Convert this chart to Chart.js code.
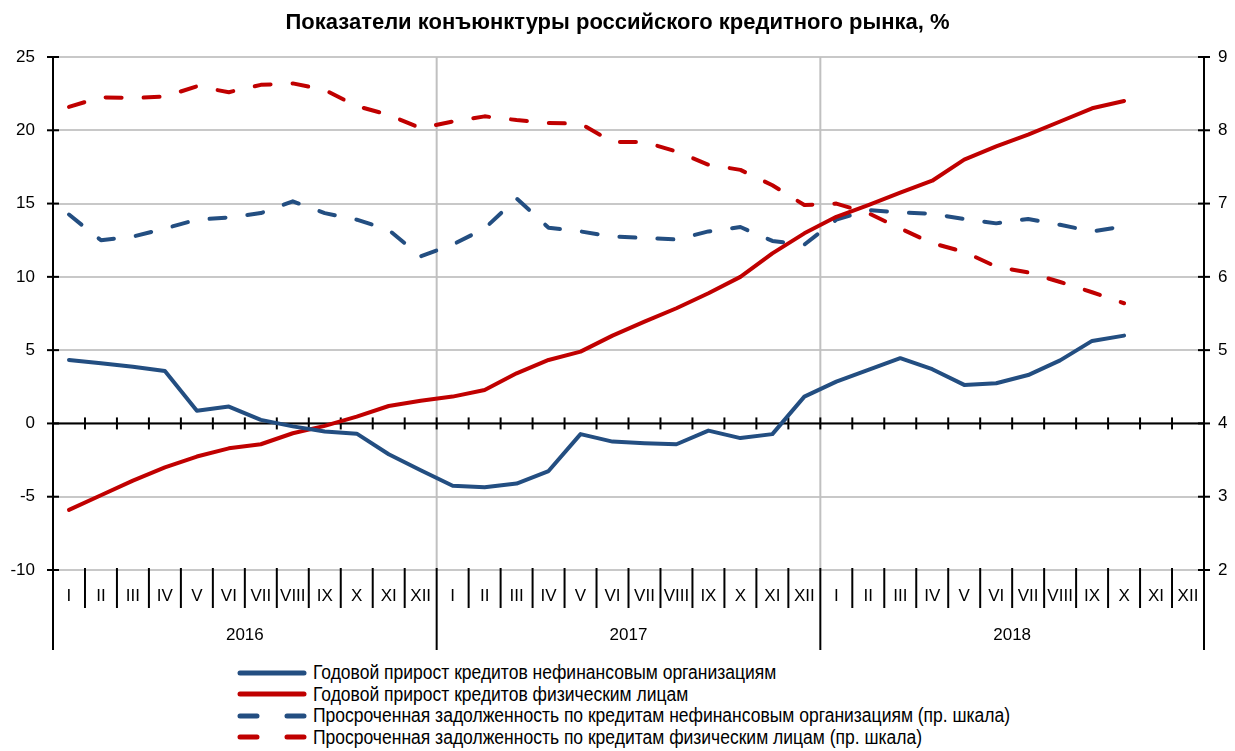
<!DOCTYPE html>
<html>
<head>
<meta charset="utf-8">
<script src="https://cdn.jsdelivr.net/npm/chart.js@4/dist/chart.umd.min.js"></script>
<style>
  body { margin: 0; background: #fff; }
  #wrap { position: relative; width: 1235px; height: 751px; }
  #legend { position: absolute; left: 237px; top: 662px; font-family: "Liberation Sans", Arial, sans-serif; font-size: 20px; color: #000; }
  .row { display: flex; align-items: center; height: 21.5px; white-space: nowrap; }
  .row svg { margin-right: 4px; flex: none; }
  .row span { display: inline-block; transform: scaleX(0.875); transform-origin: left center; }
</style>
</head>
<body>
<div id="wrap">
  <canvas id="chart" width="1235" height="655"></canvas>
  <div id="legend"></div>
</div>
<script>
// months and years
const months = ["I","II","III","IV","V","VI","VII","VIII","IX","X","XI","XII"];
const years = ["2016", "2017", "2018"];
const labels = [].concat(months, months, months);

// left scale, % y/y
const corpGrowth = [4.33, 4.1, 3.87, 3.58, 0.87, 1.15, 0.24, -0.2, -0.55, -0.7, -2.1, -3.2,
                    -4.25, -4.35, -4.1, -3.25, -0.73, -1.24, -1.35, -1.42, -0.49, -1.0, -0.73, 1.83,
                    2.85, 3.65, 4.45, 3.7, 2.63, 2.74, 3.3, 4.3, 5.63, 5.99];
const retailGrowth = [-5.9, -4.9, -3.9, -3.0, -2.26, -1.7, -1.42, -0.67, -0.17, 0.46, 1.19, 1.55,
                      1.83, 2.28, 3.42, 4.33, 4.9, 5.99, 6.95, 7.86, 8.88, 10.0, 11.6, 12.97,
                      14.1, 14.9, 15.75, 16.56, 18.0, 18.9, 19.7, 20.6, 21.5, 22.0];
// right scale, overdue share %
const corpOverdue = [6.85, 6.5, 6.55, 6.66, 6.78, 6.81, 6.87, 7.03, 6.87, 6.78, 6.64, 6.28,
                     6.44, 6.66, 7.07, 6.67, 6.62, 6.55, 6.53, 6.51, 6.62, 6.68, 6.49, 6.44,
                     6.78, 6.91, 6.88, 6.86, 6.79, 6.73, 6.79, 6.71, 6.62, 6.69];
const retailOverdue = [8.32, 8.45, 8.44, 8.46, 8.6, 8.52, 8.62, 8.64, 8.55, 8.33, 8.21, 8.03,
                       8.12, 8.19, 8.14, 8.1, 8.09, 7.84, 7.84, 7.71, 7.53, 7.46, 7.25, 6.98,
                       7.0, 6.87, 6.66, 6.46, 6.34, 6.14, 6.06, 5.93, 5.79, 5.64];

const BLUE = "#234e81";
const RED = "#c00000";
const DASH = [16, 22];
const FONT = "'Liberation Sans', Arial, sans-serif";

const datasets = [
    { label: "Годовой прирост кредитов нефинансовым организациям", data: corpGrowth, borderColor: BLUE, yAxisID: "y", borderDash: [] },
    { label: "Годовой прирост кредитов физическим лицам", data: retailGrowth, borderColor: RED, yAxisID: "y", borderDash: [] },
    { label: "Просроченная задолженность по кредитам нефинансовым организациям (пр. шкала)", data: corpOverdue, borderColor: BLUE, yAxisID: "y1", borderDash: DASH },
    { label: "Просроченная задолженность по кредитам физическим лицам (пр. шкала)", data: retailOverdue, borderColor: RED, yAxisID: "y1", borderDash: DASH }
];
datasets.forEach(d => {
    d.borderWidth = 4;
    d.pointRadius = 0;
    d.tension = 0;
    d.fill = false;
    d.borderCapStyle = "round";
    d.borderJoinStyle = "round";
});

// axes decoration: zero line ticks, month/year separators, year labels
const axisDecor = {
    id: "axisDecor",
    beforeDatasetsDraw(chart) {
        const { ctx, chartArea: a, scales: { x, y } } = chart;
        const step = x.getPixelForValue(1) - x.getPixelForValue(0);
        ctx.save();
        // year gridlines
        ctx.strokeStyle = "#c0c0c0";
        ctx.lineWidth = 2;
        for (let k = 1; k < years.length; k++) {
            const bx = x.getPixelForValue(k * 12) - step / 2;
            ctx.beginPath(); ctx.moveTo(bx, a.top); ctx.lineTo(bx, a.bottom); ctx.stroke();
        }
        // zero line with ticks
        const y0 = y.getPixelForValue(0);
        ctx.strokeStyle = "#000";
        ctx.beginPath(); ctx.moveTo(a.left, y0); ctx.lineTo(a.right, y0); ctx.stroke();
        for (let i = 1; i < labels.length; i++) {
            const bx = x.getPixelForValue(i) - step / 2;
            ctx.beginPath(); ctx.moveTo(bx, y0 - 6); ctx.lineTo(bx, y0 + 6); ctx.stroke();
        }
        ctx.restore();
    },
    afterDraw(chart) {
        const { ctx, chartArea: a, scales: { x, y, y1 } } = chart;
        const step = x.getPixelForValue(1) - x.getPixelForValue(0);
        const bottom = a.bottom + 80;
        ctx.save();
        ctx.strokeStyle = "#000";
        ctx.lineWidth = 2;
        // axis lines
        [a.left, a.right].forEach(px => {
            ctx.beginPath(); ctx.moveTo(px, a.top); ctx.lineTo(px, bottom); ctx.stroke();
        });
        // value ticks on both axes
        y.ticks.forEach(t => {
            const py = y.getPixelForValue(t.value);
            ctx.beginPath(); ctx.moveTo(a.left - 6, py); ctx.lineTo(a.left + 6, py); ctx.stroke();
        });
        y1.ticks.forEach(t => {
            const py = y1.getPixelForValue(t.value);
            ctx.beginPath(); ctx.moveTo(a.right - 6, py); ctx.lineTo(a.right + 6, py); ctx.stroke();
        });
        // month separators
        for (let i = 1; i < labels.length; i++) {
            const bx = x.getPixelForValue(i) - step / 2;
            const yb = (i % 12 === 0) ? bottom : a.bottom + 38;
            ctx.beginPath(); ctx.moveTo(bx, a.bottom - 2); ctx.lineTo(bx, yb); ctx.stroke();
        }
        // year labels
        ctx.fillStyle = "#000";
        ctx.font = "17px " + FONT;
        ctx.textAlign = "center";
        ctx.textBaseline = "middle";
        years.forEach((yr, k) => {
            const cx = (x.getPixelForValue(k * 12) + x.getPixelForValue(k * 12 + 11)) / 2;
            ctx.fillText(yr, cx, a.bottom + 65);
        });
        ctx.restore();
    }
};

new Chart(document.getElementById("chart"), {
    type: "line",
    data: { labels: labels, datasets: datasets },
    options: {
        responsive: false,
        animation: false,
        layout: { padding: 0 },
        plugins: {
            legend: { display: false },
            tooltip: { enabled: false },
            title: {
                display: true,
                text: "Показатели конъюнктуры российского кредитного рынка, %",
                color: "#000",
                font: { family: FONT, size: 22, weight: "bold" },
                padding: { top: 10, bottom: 20.6 }
            }
        },
        scales: {
            x: {
                offset: true,
                grid: { display: false },
                border: { display: false },
                ticks: { color: "#000", font: { family: FONT, size: 17 }, maxRotation: 0, autoSkip: false, padding: 8 },
                afterFit: s => { s.height = 85; }
            },
            y: {
                position: "left",
                min: -10, max: 25,
                ticks: { stepSize: 5, color: "#000", font: { family: FONT, size: 17 }, padding: 18 },
                grid: { color: "#c8c8c8", lineWidth: 2, drawTicks: false },
                border: { display: false },
                afterFit: s => { s.width = 53; }
            },
            y1: {
                position: "right",
                min: 2, max: 9,
                ticks: { stepSize: 1, color: "#000", font: { family: FONT, size: 17 }, padding: 14 },
                grid: { drawOnChartArea: false, drawTicks: false },
                border: { display: false },
                afterFit: s => { s.width = 31; }
            }
        }
    },
    plugins: [axisDecor]
});

// legend rows
const legend = document.getElementById("legend");
datasets.forEach(d => {
    const row = document.createElement("div");
    row.className = "row";
    const dash = d.borderDash.length ? ' stroke-dasharray="17 30"' : "";
    row.innerHTML = '<svg width="72" height="10"><line x1="3" y1="5" x2="67" y2="5" stroke="' + d.borderColor +
        '" stroke-width="5" stroke-linecap="round"' + dash + '/></svg><span>' + d.label + '</span>';
    legend.appendChild(row);
});
</script>
</body>
</html>
